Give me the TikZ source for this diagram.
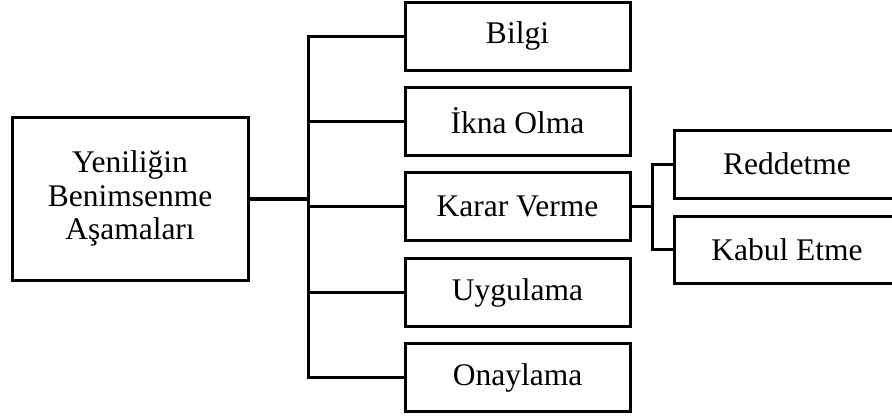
\documentclass[tikz,border=0pt]{standalone}
\usepackage{fontspec}
\setmainfont{Liberation Serif}
\begin{document}
\begin{tikzpicture}[x=1pt,y=-1pt,
  box/.style={draw, line width=3pt, inner sep=0pt, align=center,
    font=\fontsize{31.5}{33.5}\selectfont},
  stagebox/.style={box, minimum width=225pt, minimum height=68pt},
  conn/.style={line width=3pt, line cap=rect}]
\useasboundingbox (0,0) rectangle (892,416);
\node[box, minimum width=236pt, minimum height=163pt] (main) at (130,198.5) {Yeniliğin\\Benimsenme\\Aşamaları};
\node[stagebox] (bilgi) at (517.5,36) {Bilgi};
\node[stagebox] (ikna) at (517.5,121) {İkna Olma};
\node[stagebox] (karar) at (517.5,206.5) {Karar Verme};
\node[stagebox] (uyg) at (517.5,292.5) {Uygulama};
\node[stagebox] (onay) at (517.5,377.5) {Onaylama};
\node[stagebox, minimum width=226pt] (red) at (787,164) {Reddetme};
\node[stagebox, minimum width=226pt, minimum height=67pt] (kabul) at (787,249.5) {Kabul Etme};
\coordinate (j) at (308,198.5);
\coordinate (k) at (652,206.5);
\draw[line width=4pt] (main.east) -- (j);
\draw[conn] (bilgi.west -| j) -- (onay.west -| j);
\foreach \n in {bilgi,ikna,karar,uyg,onay}{
  \draw[conn] (\n.west -| j) -- (\n.west);
}
\draw[conn] (karar.east) -- (k);
\draw[conn] (red.west) -- (red.west -| k) -- (kabul.west -| k) -- (kabul.west);
\end{tikzpicture}
\end{document}
